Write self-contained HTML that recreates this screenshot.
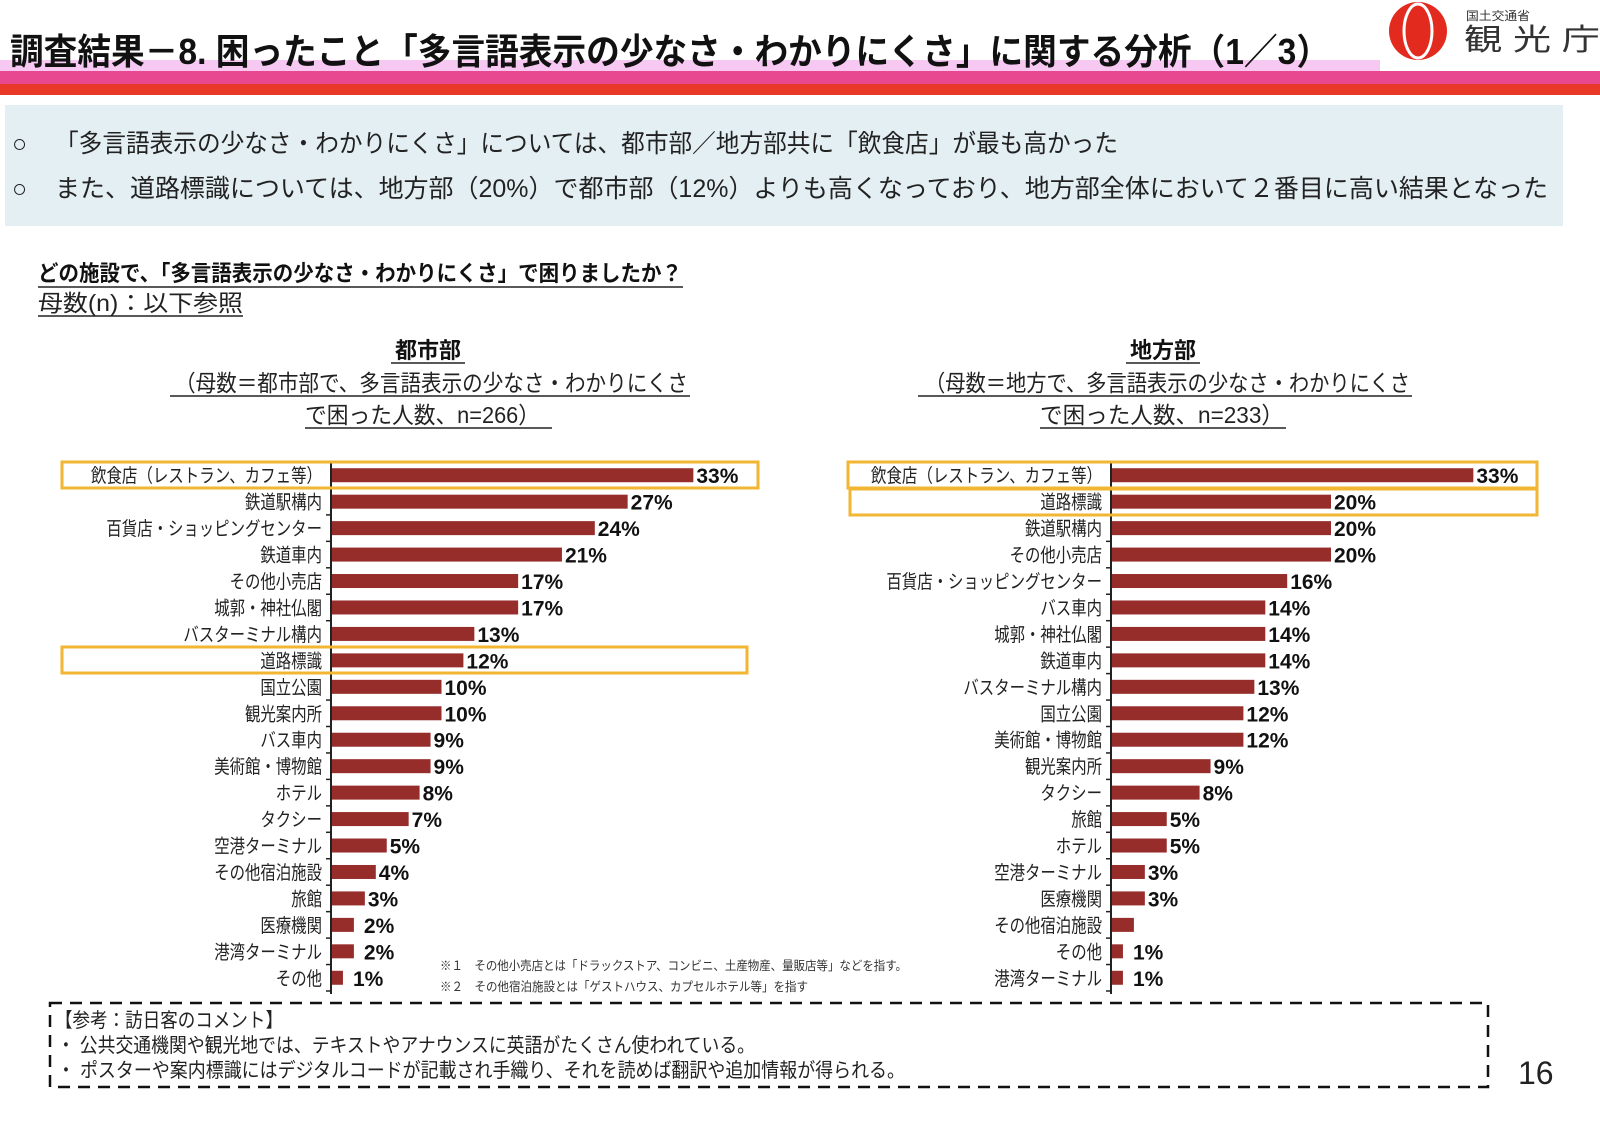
<!DOCTYPE html>
<html><head><meta charset="utf-8"><style>
html,body{margin:0;padding:0;background:#fff;width:1600px;height:1123px;overflow:hidden;}
svg{display:block;font-family:"Liberation Sans","Noto Sans CJK JP",sans-serif;}
</style></head><body>
<svg id="page" width="1600" height="1123" viewBox="0 0 1600 1123" xmlns="http://www.w3.org/2000/svg">
<g>
  <rect x="0" y="60" width="1380" height="12" fill="#f6c8f2"/>
  <rect x="0" y="71" width="1600" height="13" fill="#e8488f"/>
  <rect x="0" y="84" width="1600" height="11" fill="#e83828"/>
  <text x="10" y="64" font-size="36" font-weight="bold" fill="#111" textLength="1320" lengthAdjust="spacingAndGlyphs">調査結果－8. 困ったこと「多言語表示の少なさ・わかりにくさ」に関する分析（1／3）</text>
  <g>
    <circle cx="1418" cy="31" r="29" fill="#e32a1e"/>
    <ellipse cx="1418" cy="31" rx="14" ry="27" fill="none" stroke="#fff" stroke-width="3"/>
    <text x="1466" y="20" font-size="12" fill="#333" textLength="64" lengthAdjust="spacingAndGlyphs">国土交通省</text>
    <text x="1464" y="50" font-size="30" fill="#333" textLength="136" lengthAdjust="spacingAndGlyphs">観 光 庁</text>
  </g>
</g>
<g>
  <rect x="5" y="105" width="1558" height="121" fill="#e4eff4"/>
  <text x="12" y="152" font-size="25" fill="#222"><tspan>○</tspan><tspan x="55" textLength="1063" lengthAdjust="spacingAndGlyphs">「多言語表示の少なさ・わかりにくさ」については、都市部／地方部共に「飲食店」が最も高かった</tspan></text>
  <text x="12" y="197" font-size="25" fill="#222"><tspan>○</tspan><tspan x="55" textLength="1493" lengthAdjust="spacingAndGlyphs">また、道路標識については、地方部（20%）で都市部（12%）よりも高くなっており、地方部全体において２番目に高い結果となった</tspan></text>
</g>
<g>
  <text x="38" y="281" font-size="22" font-weight="bold" fill="#111" textLength="644" lengthAdjust="spacingAndGlyphs">どの施設で、「多言語表示の少なさ・わかりにくさ」で困りましたか？</text>
  <line x1="38" y1="287" x2="683" y2="287" stroke="#222" stroke-width="1.5"/>
  <text x="38" y="311" font-size="23" fill="#222" textLength="205" lengthAdjust="spacingAndGlyphs">母数(n)：以下参照</text>
  <line x1="38" y1="316" x2="243" y2="316" stroke="#222" stroke-width="1.5"/>
</g>
<g>
  <text x="428" y="358" font-size="22" font-weight="bold" text-anchor="middle" fill="#111">都市部</text>
  <line x1="391" y1="363" x2="465" y2="363" stroke="#222" stroke-width="1.5"/>
  <text x="175" y="391" font-size="23" fill="#222" textLength="513" lengthAdjust="spacingAndGlyphs">（母数＝都市部で、多言語表示の少なさ・わかりにくさ</text>
  <line x1="170" y1="396" x2="690" y2="396" stroke="#222" stroke-width="1.5"/>
  <text x="305" y="423" font-size="23" fill="#222" textLength="235" lengthAdjust="spacingAndGlyphs">で困った人数、n=266）</text>
  <line x1="305" y1="428" x2="552" y2="428" stroke="#222" stroke-width="1.5"/>
</g>
<g>
  <text x="1163" y="358" font-size="22" font-weight="bold" text-anchor="middle" fill="#111">地方部</text>
  <line x1="1126" y1="363" x2="1200" y2="363" stroke="#222" stroke-width="1.5"/>
  <text x="925" y="391" font-size="23" fill="#222" textLength="485" lengthAdjust="spacingAndGlyphs">（母数＝地方で、多言語表示の少なさ・わかりにくさ</text>
  <line x1="918" y1="396" x2="1412" y2="396" stroke="#222" stroke-width="1.5"/>
  <text x="1040" y="423" font-size="23" fill="#222" textLength="244" lengthAdjust="spacingAndGlyphs">で困った人数、n=233）</text>
  <line x1="1040" y1="428" x2="1286" y2="428" stroke="#222" stroke-width="1.5"/>
</g>
<g id="urban"></g>
<g id="rural"></g>
<g fill="none" stroke="#f2b632" stroke-width="3">
  <rect x="62" y="462" width="696" height="26"/>
  <rect x="62" y="647" width="685" height="26"/>
  <rect x="848" y="462" width="689" height="26"/>
  <rect x="850" y="489" width="687" height="26"/>
</g>
<g font-size="12.5" fill="#333">
  <text x="440" y="970" textLength="467" lengthAdjust="spacingAndGlyphs">※１　その他小売店とは「ドラックストア、コンビニ、土産物産、量販店等」などを指す。</text>
  <text x="440" y="991" textLength="368" lengthAdjust="spacingAndGlyphs">※２　その他宿泊施設とは「ゲストハウス、カプセルホテル等」を指す</text>
</g>
<g>
  <rect x="50" y="1003" width="1438" height="84" fill="none" stroke="#111" stroke-width="2.5" stroke-dasharray="12,8"/>
  <text x="55" y="1027" font-size="20" fill="#222" textLength="228" lengthAdjust="spacingAndGlyphs">【参考：訪日客のコメント】</text>
  <text x="57" y="1052" font-size="20" fill="#222" textLength="698" lengthAdjust="spacingAndGlyphs">・ 公共交通機関や観光地では、テキストやアナウンスに英語がたくさん使われている。</text>
  <text x="57" y="1077" font-size="20" fill="#222" textLength="848" lengthAdjust="spacingAndGlyphs">・ ポスターや案内標識にはデジタルコードが記載され手織り、それを読めば翻訳や追加情報が得られる。</text>
</g>
<text x="1518" y="1084" font-size="32" fill="#222">16</text>
</svg>
<script>
const urbanCategories=["飲食店（レストラン、カフェ等）","鉄道駅構内","百貨店・ショッピングセンター","鉄道車内","その他小売店","城郭・神社仏閣","バスターミナル構内","道路標識","国立公園","観光案内所","バス車内","美術館・博物館","ホテル","タクシー","空港ターミナル","その他宿泊施設","旅館","医療機関","港湾ターミナル","その他"];
const urbanValues=[33,27,24,21,17,17,13,12,10,10,9,9,8,7,5,4,3,2,2,1];
const urbanLabels=["33%","27%","24%","21%","17%","17%","13%","12%","10%","10%","9%","9%","8%","7%","5%","4%","3%","2%","2%","1%"];
const ruralCategories=["飲食店（レストラン、カフェ等）","道路標識","鉄道駅構内","その他小売店","百貨店・ショッピングセンター","バス車内","城郭・神社仏閣","鉄道車内","バスターミナル構内","国立公園","美術館・博物館","観光案内所","タクシー","旅館","ホテル","空港ターミナル","医療機関","その他宿泊施設","その他","港湾ターミナル"];
const ruralValues=[33,20,20,20,16,14,14,14,13,12,12,9,8,5,5,3,3,2,1,1];
const ruralLabels=["33%","20%","20%","20%","16%","14%","14%","14%","13%","12%","12%","9%","8%","5%","5%","3%","3%","","1%","1%"];
const NS="http://www.w3.org/2000/svg";
function mk(tag,attrs,parent){const e=document.createElementNS(NS,tag);for(const k in attrs)e.setAttribute(k,attrs[k]);parent.appendChild(e);return e;}
function drawChart(gid,axisX,cats,vals,labels,prefix){
  const g=document.getElementById(gid);
  const y0=462,step=26.45,pxPer=10.95;
  const yScale=i=>y0+i*step;
  const xScale=v=>axisX+1+v*pxPer;
  const ax=mk("line",{x1:axisX,y1:y0,x2:axisX,y2:y0+cats.length*step+3,stroke:"#222","stroke-width":2},g);
  
  
  for(let i=0;i<=cats.length;i++){mk("line",{x1:axisX-5,y1:yScale(i),x2:axisX,y2:yScale(i),stroke:"#222","stroke-width":1.5},g);}
  cats.forEach((c,i)=>{
    const yc=yScale(i)+step/2;
    const t=mk("text",{x:axisX-9,y:yc+7,"font-size":19,"text-anchor":"end",fill:"#222",textLength:(c.length*15.4).toFixed(1),lengthAdjust:"spacingAndGlyphs"},g);
    t.textContent=c;
    
    
    const b=mk("rect",{x:axisX+1,y:yc-7,width:xScale(vals[i])-axisX-1,height:14,fill:"#962d2b"},g);
    
    
    if(labels[i]){
      const v=mk("text",{x:xScale(vals[i])+(vals[i]<3?10:3),y:yc+8,"font-size":21,"font-weight":"bold",fill:"#111"},g);
      v.textContent=labels[i];
      
      
    }
  });
}
drawChart("urban",331,urbanCategories,urbanValues,urbanLabels,"urban");
drawChart("rural",1111,ruralCategories,ruralValues,ruralLabels,"rural");
</script>
</body></html>
